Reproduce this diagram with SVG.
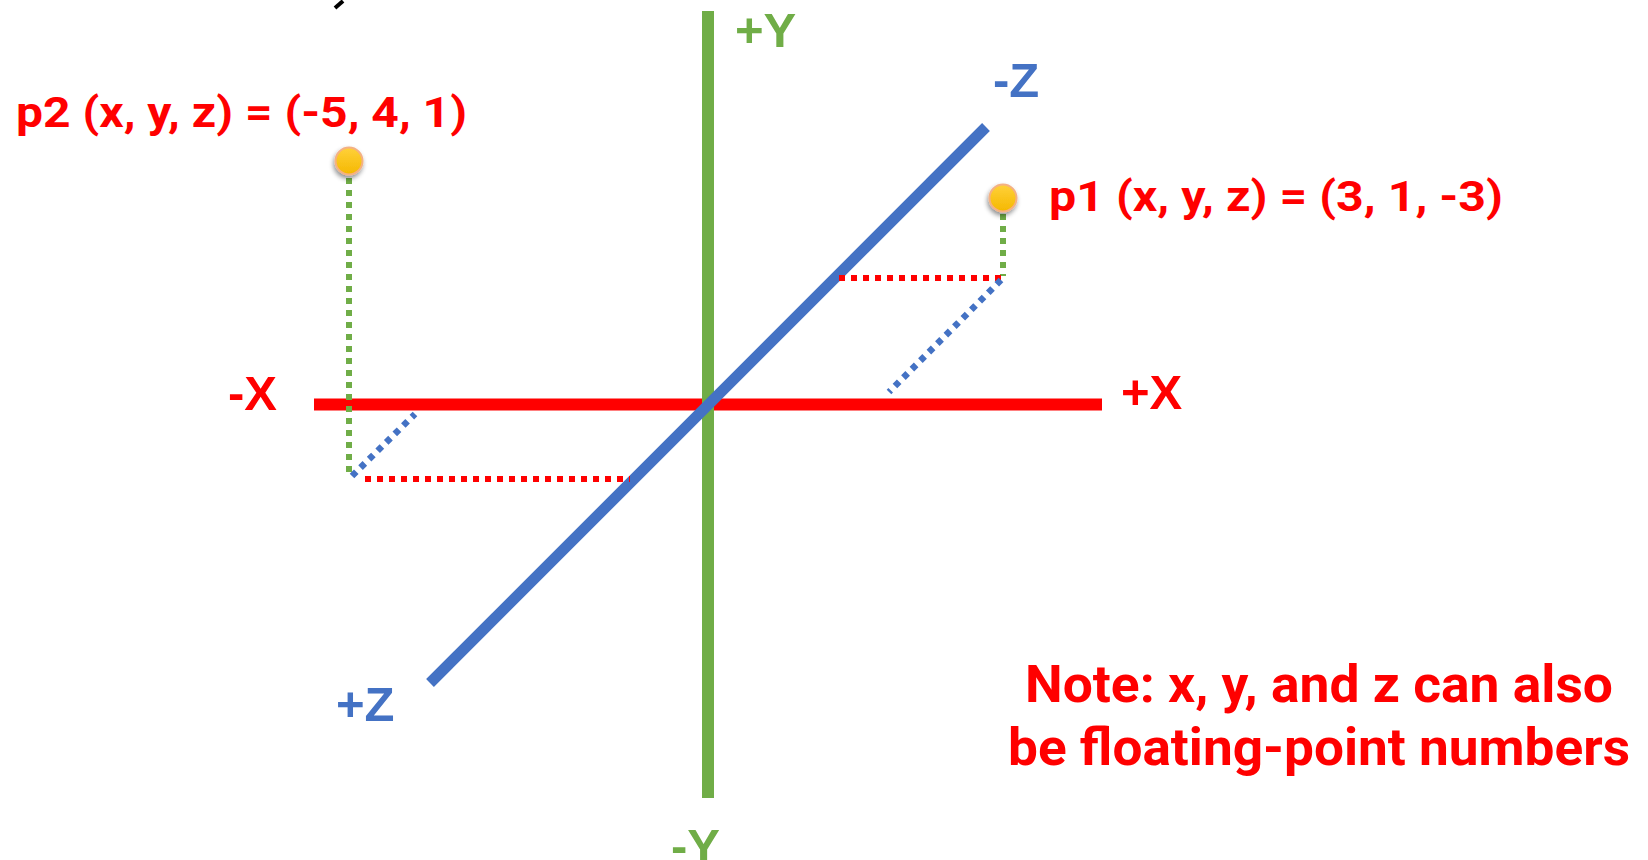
<svg xmlns="http://www.w3.org/2000/svg" width="1648" height="860" viewBox="0 0 1648 860">
<defs>
<linearGradient id="dotFill" x1="0" y1="0" x2="0" y2="1">
<stop offset="0" stop-color="#ffd13a"/>
<stop offset="1" stop-color="#f5b800"/>
</linearGradient>
<filter id="shadow" x="-50%" y="-50%" width="200%" height="200%">
<feGaussianBlur in="SourceAlpha" stdDeviation="2.5"/>
<feOffset dx="-1" dy="3" result="b"/>
<feComponentTransfer><feFuncA type="linear" slope="0.45"/></feComponentTransfer>
<feMerge><feMergeNode/><feMergeNode in="SourceGraphic"/></feMerge>
</filter>
</defs>
<style>
.lbl{font-family:"Liberation Sans",Arial,sans-serif;font-weight:bold;font-size:49px}
.pt{font-family:Roboto,"Liberation Sans",sans-serif;font-weight:bold;font-size:43px;fill:#ff0000}
.note{font-family:Roboto,"Liberation Sans",sans-serif;font-weight:bold;font-size:52px;fill:#ff0000;text-anchor:middle}
.dot{fill:url(#dotFill);stroke:#f4b183;stroke-width:2;filter:url(#shadow)}
.gd{stroke:#70ad47;stroke-width:6;stroke-dasharray:6 6;fill:none}
.rd{stroke:#ff0000;stroke-width:6;stroke-dasharray:6 6;fill:none}
.bd{stroke:#4472c4;stroke-width:6.5;stroke-dasharray:6 6;fill:none}
</style>
<rect width="1648" height="860" fill="#ffffff"/>
<path d="M343 1 L335 8" stroke="#000" stroke-width="4" fill="none"/>
<g id="connectors">
<line id="x-axis" x1="314" y1="404.5" x2="1102" y2="404.5" stroke="#ff0000" stroke-width="12"/>
<line id="y-axis" x1="708" y1="11" x2="708" y2="798" stroke="#70ad47" stroke-width="12"/>
<line id="z-axis" x1="430" y1="683" x2="986" y2="127" stroke="#4472c4" stroke-width="11"/>
<line class="gd" x1="349" y1="178" x2="349" y2="476"/>
<line class="bd" x1="352" y1="476" x2="415" y2="414"/>
<line class="rd" x1="365" y1="479" x2="630" y2="479"/>
<line class="gd" x1="1003" y1="214" x2="1003" y2="276"/>
<line class="rd" x1="839" y1="278" x2="1004" y2="278"/>
<line class="bd" x1="1001" y1="280" x2="889" y2="392"/>
</g>
<g id="axis-labels">
<text class="lbl" x="735" y="47" fill="#70ad47">+Y</text>
<text class="lbl" x="671" y="863" fill="#70ad47">-Y</text>
<text class="lbl" x="1121" y="409" fill="#ff0000">+X</text>
<text class="lbl" x="228" y="410" fill="#ff0000">-X</text>
<text class="lbl" x="993" y="97" fill="#4472c4">-Z</text>
<text class="lbl" x="336" y="721" fill="#4472c4">+Z</text>
</g>
<g id="p2">
<circle class="dot" cx="349" cy="161" r="13.5"/>
<text class="pt" x="16" y="127" textLength="451" lengthAdjust="spacingAndGlyphs">p2 (x, y, z) = (-5, 4, 1)</text>
</g>
<g id="p1">
<circle class="dot" cx="1003" cy="198" r="13.5"/>
<text class="pt" x="1049" y="211" textLength="454" lengthAdjust="spacingAndGlyphs">p1 (x, y, z) = (3, 1, -3)</text>
</g>
<g id="note">
<text class="note" x="1319" y="702" textLength="588" lengthAdjust="spacingAndGlyphs">Note: x, y, and z can also</text>
<text class="note" x="1319" y="765" textLength="622" lengthAdjust="spacingAndGlyphs">be floating-point numbers</text>
</g>
</svg>
